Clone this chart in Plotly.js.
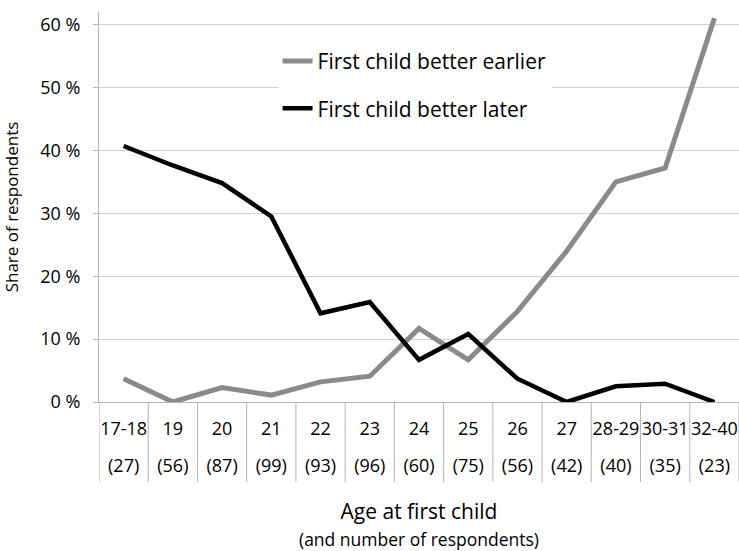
<!DOCTYPE html>
<html><head><meta charset="utf-8">
<script src="https://cdn.plot.ly/plotly-3.0.1.min.js"></script>
<style>html,body{margin:0;padding:0;background:#fff}#chart{width:739px;height:551px}</style>
</head><body><div id="chart"></div>
<script>
const ageGroups = ['17-18','19','20','21','22','23','24','25','26','27','28-29','30-31','32-40'];
const respondents = [27,56,87,99,93,96,60,75,56,42,40,35,23];
const betterEarlier = [3.7,0,2.3,1.1,3.2,4.1,11.7,6.7,14.4,24.0,35.0,37.2,61.0];
const betterLater = [40.7,37.6,34.8,29.5,14.1,15.9,6.7,10.8,3.7,0,2.5,2.9,0];
const yTicks = [0,10,20,30,40,50,60];
const yTickText = yTicks.map(v => v + ' %');
const countText = respondents.map(n => '(' + n + ')');

const FONT = 'Open Sans, sans-serif';
const axisGray = '#b4b4b4';
const gridGray = '#d0d0d0';

const traces = [
  {x: ageGroups, y: betterEarlier, name: 'First child better earlier', type: 'scatter', mode: 'lines',
   legendgroup: 'a', line: {color: '#8a8a8a', width: 5}, xaxis: 'x', yaxis: 'y'},
  {x: ageGroups, y: betterLater, name: 'First child better later', type: 'scatter', mode: 'lines',
   legendgroup: 'b', line: {color: '#000000', width: 4.5}, xaxis: 'x2', yaxis: 'y'}
];

const shapes = [];
for (let i = 0; i <= ageGroups.length; i++) {
  shapes.push({type: 'line', xref: 'x', yref: 'paper', x0: i - 0.5, x1: i - 0.5, y0: 0, y1: -80/390,
    line: {color: axisGray, width: 1}});
}

const layout = {
  width: 739, height: 551,
  margin: {l: 99, r: 0, t: 12, b: 149},
  paper_bgcolor: '#fff', plot_bgcolor: '#fff',
  font: {family: FONT, color: '#000', size: 18},
  showlegend: true,
  legend: {x: 0.279, y: 0.926, xanchor: 'left', yanchor: 'top', bgcolor: '#fff',
    font: {family: FONT, size: 21, color: '#000'}, traceorder: 'grouped', tracegroupgap: 17},
  xaxis: {type: 'category', categoryarray: ageGroups, categoryorder: 'array', range: [-0.5, 12.5],
    tickmode: 'array', tickvals: ageGroups, ticktext: ageGroups, ticks: '', showgrid: false,
    showline: true, linecolor: axisGray, linewidth: 1, zeroline: false,
    tickfont: {family: FONT, size: 18, color: '#000'}, ticklabelstandoff: 10,
    title: {text: 'Age at first child<br><span style="font-size:17.5px">(and number of respondents)</span>',
      font: {family: FONT, size: 21, color: '#000'}, standoff: 66},
    fixedrange: true},
  xaxis2: {type: 'category', categoryarray: ageGroups, categoryorder: 'array', overlaying: 'x', anchor: 'y',
    side: 'bottom', range: [-0.5, 12.5], matches: 'x',
    tickmode: 'array', tickvals: ageGroups, ticktext: countText, ticks: '',
    showgrid: false, showline: false, zeroline: false, ticklabelstandoff: 51,
    tickfont: {family: FONT, size: 18, color: '#000'}, fixedrange: true},
  yaxis: {range: [0, 62], tickmode: 'array', tickvals: yTicks, ticktext: yTickText,
    showgrid: true, gridcolor: gridGray, gridwidth: 1, zeroline: false,
    showline: true, linecolor: axisGray, linewidth: 1, ticks: 'outside', ticklen: 5, tickcolor: axisGray,
    ticklabelstandoff: 9, tickfont: {family: FONT, size: 18, color: '#000'},
    title: {text: 'Share of respondents', font: {family: FONT, size: 17, color: '#000'}, standoff: 20},
    fixedrange: true},
  shapes: shapes
};

Plotly.newPlot('chart', traces, layout, {displayModeBar: false, staticPlot: true});
</script></body></html>
